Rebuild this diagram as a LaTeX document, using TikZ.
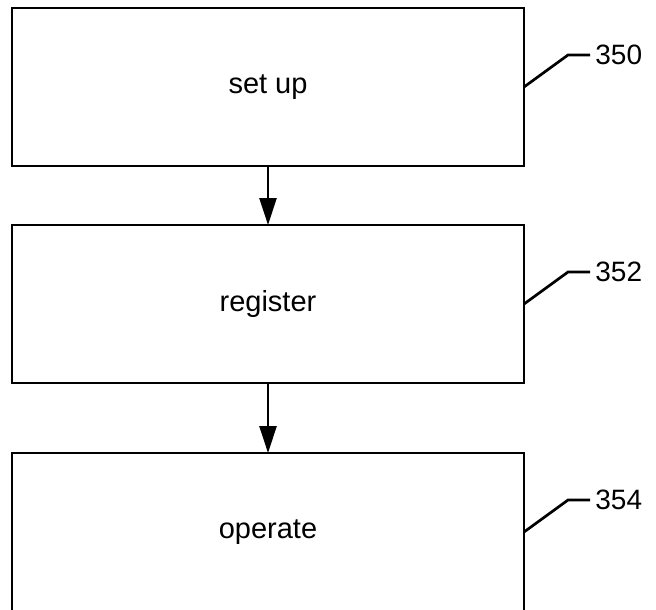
\documentclass[tikz,border=0pt]{standalone}
\usepackage{fontspec}
\setmainfont{Liberation Sans}
\usetikzlibrary{positioning,arrows.meta}

\begin{document}
\begin{tikzpicture}[
    schritt/.style={draw, line width=1.35pt, minimum width=256pt, minimum height=79pt, outer sep=0pt, font=\fontsize{14.5pt}{17pt}\selectfont},
    pfeil/.style={-{Triangle[length=13.5pt,width=8.5pt]}, line width=1.35pt},
    nummer/.style={anchor=west, inner sep=2.5pt, font=\fontsize{14pt}{17pt}\selectfont},
    fuehrung/.style={line width=1.35pt}]
    \useasboundingbox (0,0) rectangle (328pt,-304.5pt);
    \clip (0,0) rectangle (328pt,-304.5pt);
    % Kaesten:
    \node[schritt] (setup) at (134pt,-43.5pt) {set up}; % erster Schritt
    \node[schritt, below=29.5pt of setup] (register) {register}; % zweiter Schritt
    \node[schritt, below=35pt of register] (operate) {operate}; % dritter Schritt
    % Pfeile:
    \draw[pfeil] (setup) -- (register);
    \draw[pfeil] (register) -- (operate);
    % Bezugszeichen:
    \node[nummer] (n350) at ([shift={(33pt,16pt)}]setup.east) {350};
    \node[nummer] (n352) at ([shift={(33pt,16pt)}]register.east) {352};
    \node[nummer] (n354) at ([shift={(33pt,16pt)}]operate.east) {354};
    \draw[fuehrung] (setup.east) -- ++(22pt,16pt) -- (n350.west);
    \draw[fuehrung] (register.east) -- ++(22pt,16pt) -- (n352.west);
    \draw[fuehrung] (operate.east) -- ++(22pt,16pt) -- (n354.west);
\end{tikzpicture}
\end{document}
